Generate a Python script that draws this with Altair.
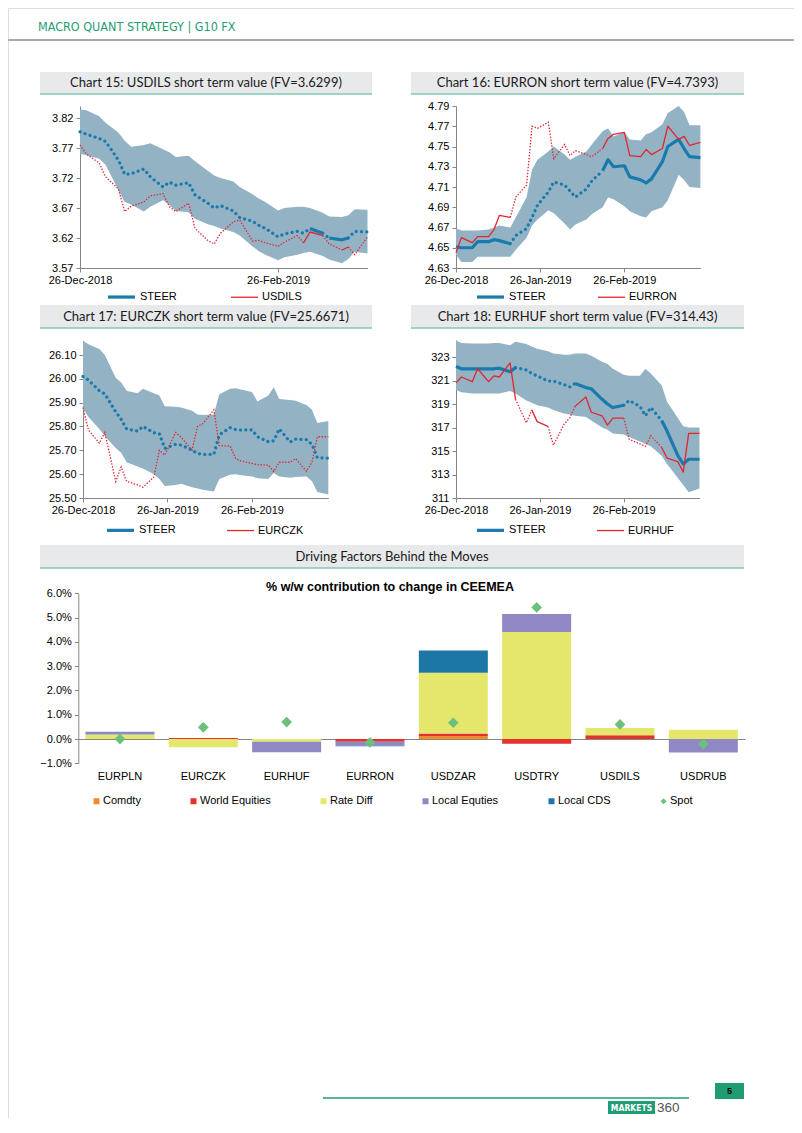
import altair as alt
import pandas as pd

# ---------------- shared time axis (every 2nd business day) ----------------
DATES = [
    "2018-12-26", "2018-12-28", "2019-01-01", "2019-01-03", "2019-01-07", "2019-01-09",
    "2019-01-11", "2019-01-15", "2019-01-17", "2019-01-21", "2019-01-23", "2019-01-25",
    "2019-01-29", "2019-01-31", "2019-02-04", "2019-02-06", "2019-02-08", "2019-02-12",
    "2019-02-14", "2019-02-18", "2019-02-20", "2019-02-22", "2019-02-26", "2019-02-28",
    "2019-03-04", "2019-03-06", "2019-03-08", "2019-03-12", "2019-03-14", "2019-03-18",
    "2019-03-20", "2019-03-22", "2019-03-26",
]

# ---------------- Chart 15: USDILS ----------------
ILS_HI = [3.834, 3.833, 3.823, 3.812, 3.796, 3.782, 3.772, 3.775, 3.778, 3.768, 3.763, 3.755,
          3.757, 3.748, 3.732, 3.724, 3.720, 3.714, 3.705, 3.693, 3.686, 3.680, 3.666, 3.670,
          3.672, 3.672, 3.670, 3.662, 3.656, 3.655, 3.658, 3.668, 3.667]
ILS_LO = [3.761, 3.758, 3.752, 3.742, 3.700, 3.680, 3.676, 3.664, 3.672, 3.683, 3.675, 3.665,
          3.663, 3.652, 3.643, 3.640, 3.636, 3.630, 3.624, 3.606, 3.598, 3.592, 3.583, 3.588,
          3.592, 3.595, 3.597, 3.590, 3.584, 3.578, 3.585, 3.597, 3.594]
ILS_STEER = [3.797, 3.793, 3.786, 3.781, 3.750, 3.726, 3.727, 3.735, 3.722, 3.705, 3.713, 3.708,
             3.712, 3.692, 3.678, 3.670, 3.674, 3.665, 3.654, 3.648, 3.641, 3.636, 3.622, 3.627,
             3.631, 3.628, 3.636, 3.628, 3.620, 3.617, 3.620, 3.631, 3.630]
ILS_SPOT = [3.775, 3.760, 3.745, 3.722, 3.702, 3.664, 3.673, 3.680, 3.690, 3.694, 3.672, 3.664,
            3.678, 3.636, 3.616, 3.610, 3.628, 3.647, 3.650, 3.615, 3.616, 3.612, 3.606, 3.613,
            3.624, 3.612, 3.630, 3.624, 3.610, 3.600, 3.605, 3.592, 3.622]
ILS_STEER_SOLID = [(26, 27), (28, 30)]
ILS_SPOT_SOLID = [(25, 27), (29, 30)]

# ---------------- Chart 16: EURRON ----------------
RON_HI = [4.669, 4.667, 4.667, 4.667, 4.668, 4.670, 4.672, 4.670, 4.680, 4.700, 4.727, 4.737,
          4.745, 4.750, 4.742, 4.737, 4.740, 4.745, 4.752, 4.765, 4.768, 4.760, 4.764, 4.757,
          4.756, 4.762, 4.764, 4.772, 4.783, 4.790, 4.784, 4.771, 4.771]
RON_LO = [4.643, 4.636, 4.636, 4.641, 4.641, 4.641, 4.641, 4.641, 4.648, 4.660, 4.672, 4.678,
          4.687, 4.684, 4.674, 4.668, 4.673, 4.678, 4.683, 4.690, 4.700, 4.698, 4.691, 4.686,
          4.681, 4.680, 4.686, 4.690, 4.697, 4.722, 4.717, 4.710, 4.709]
RON_STEER = [4.651, 4.650, 4.650, 4.656, 4.656, 4.658, 4.657, 4.654, 4.662, 4.669, 4.680, 4.692,
             4.705, 4.715, 4.712, 4.706, 4.700, 4.708, 4.716, 4.726, 4.737, 4.730, 4.731, 4.720,
             4.717, 4.714, 4.718, 4.735, 4.750, 4.757, 4.748, 4.740, 4.739]
RON_SPOT = [4.645, 4.660, 4.655, 4.661, 4.661, 4.668, 4.682, 4.680, 4.700, 4.712, 4.770, 4.768,
            4.774, 4.738, 4.752, 4.741, 4.746, 4.742, 4.740, 4.748, 4.758, 4.762, 4.764, 4.741,
            4.740, 4.747, 4.742, 4.748, 4.770, 4.757, 4.760, 4.751, 4.754]
RON_STEER_SOLID = [(0, 7), (19, 32)]
RON_SPOT_SOLID = [(0, 7), (19, 32)]

# ---------------- Chart 17: EURCZK ----------------
CZK_HI = [26.160, 26.145, 26.125, 26.100, 26.005, 25.985, 25.950, 25.940, 25.958, 25.940, 25.930,
          25.885, 25.883, 25.880, 25.866, 25.850, 25.848, 25.850, 25.935, 25.958, 25.960, 25.955,
          25.945, 25.905, 25.930, 25.965, 25.915, 25.911, 25.908, 25.890, 25.870, 25.815, 25.823]
CZK_LO = [25.876, 25.840, 25.790, 25.760, 25.710, 25.690, 25.650, 25.632, 25.624, 25.600, 25.580,
          25.550, 25.555, 25.560, 25.545, 25.540, 25.535, 25.527, 25.580, 25.598, 25.600, 25.595,
          25.590, 25.583, 25.580, 25.605, 25.590, 25.585, 25.588, 25.590, 25.570, 25.525, 25.515]
CZK_STEER = [26.010, 25.995, 25.950, 25.937, 25.862, 25.830, 25.790, 25.781, 25.800, 25.774, 25.770,
             25.708, 25.725, 25.722, 25.701, 25.687, 25.683, 25.683, 25.765, 25.795, 25.787, 25.785,
             25.786, 25.757, 25.736, 25.740, 25.790, 25.735, 25.747, 25.745, 25.725, 25.669, 25.667]
CZK_SPOT = [25.880, 25.785, 25.730, 25.775, 25.569, 25.630, 25.570, 25.555, 25.545, 25.588, 25.700,
            25.680, 25.775, 25.755, 25.701, 25.800, 25.812, 25.870, 25.720, 25.718, 25.666, 25.655,
            25.645, 25.640, 25.638, 25.611, 25.650, 25.650, 25.665, 25.612, 25.650, 25.757, 25.757]
CZK_STEER_SOLID = []
CZK_SPOT_SOLID = []

# ---------------- Chart 18: EURHUF ----------------
HUF_HI = [324.4, 324.2, 324.15, 324.15, 324.15, 324.2, 324.2, 324.0, 324.3, 324.1, 323.9, 323.7,
          323.5, 323.3, 323.2, 323.2, 323.3, 323.3, 323.1, 322.6, 322.4, 322.0, 321.5, 321.4,
          321.4, 322.0, 321.6, 320.6, 319.2, 317.8, 317.1, 317.0, 317.0]
HUF_LO = [320.2, 320.0, 319.9, 319.9, 319.9, 319.9, 319.9, 320.1, 319.9, 319.3, 319.1, 318.9,
          318.7, 318.5, 318.2, 318.1, 318.0, 317.9, 317.6, 317.0, 316.8, 316.5, 316.4, 316.2,
          315.8, 315.6, 315.4, 314.6, 313.9, 312.7, 312.1, 311.5, 311.8]
HUF_STEER = [322.2, 322.0, 322.0, 322.0, 322.0, 322.0, 322.05, 321.75, 322.1, 321.9, 321.6, 321.4,
             320.95, 320.95, 320.65, 320.45, 320.75, 320.4, 320.3, 319.4, 319.0, 318.7, 318.9, 319.3,
             318.8, 318.0, 318.7, 317.6, 316.7, 314.6, 313.9, 314.3, 314.3]
HUF_SPOT = [320.8, 321.3, 320.9, 322.0, 320.9, 321.4, 321.3, 322.5, 319.4, 317.4, 318.5, 317.5,
            317.1, 315.5, 317.3, 317.8, 318.8, 319.6, 318.3, 318.0, 317.2, 317.8, 317.8, 316.0,
            315.6, 315.4, 316.3, 315.3, 314.4, 314.1, 313.2, 316.5, 316.5]
HUF_STEER_SOLID = [(0, 8), (16, 22), (27, 32)]
HUF_SPOT_SOLID = [(0, 8), (10, 12), (16, 22), (27, 32)]

# ---------------- Driving factors bar chart ----------------
CATS = ["EURPLN", "EURCZK", "EURHUF", "EURRON", "USDZAR", "USDTRY", "USDILS", "USDRUB"]
FACTORS = ["Comdty", "World Equities", "Rate Diff", "Local Equties", "Local CDS"]
COMDTY = [0.0, 0.0, 0.0, 0.0, 0.12, 0.0, 0.0, 0.0]
WORLD_EQ = [0.0, 0.04, 0.0, -0.11, 0.11, -0.19, 0.15, 0.0]
RATE_DIFF = [0.19, -0.34, -0.11, 0.0, 2.50, 4.41, 0.30, 0.38]
LOCAL_EQ = [0.11, 0.0, -0.44, -0.17, 0.0, 0.74, 0.0, -0.56]
LOCAL_CDS = [0.0, 0.0, 0.0, -0.02, 0.91, 0.0, 0.0, 0.0]
SPOT = [0.0, 0.48, 0.70, -0.14, 0.67, 5.42, 0.60, -0.21]

# ---------------- styling / layout ----------------
W, H, OFF = 786, 1110, 8
FONT = "Liberation Sans"
TFONT = "Lato"
NARROW = "Liberation Sans Narrow, DejaVu Sans Condensed, sans-serif"
BAND = "#93b3c5"
BLUE = "#1a7aad"
RED = "#e2262f"
GREEN = "#1f9c74"
GRAYBAND = "#e7e9eb"
TEAL_LINE = "#86c4b9"
FACTOR_COLORS = ["#f08a2a", "#e3322d", "#e4e76c", "#8f88c5", "#1c76a6", "#6cc07c"]

ONE = pd.DataFrame({"k": [0]})


def g(v):
    return v - OFF


def dt(s):
    y, m, d = map(int, s.split("-"))
    return alt.DateTime(year=y, month=m, date=d, utc=True)


def vrect(x1, y1, x2, y2, color):
    return alt.Chart(ONE).mark_rect(color=color, opacity=1).encode(
        x=alt.value(g(x1)), x2=alt.value(g(x2)), y=alt.value(g(y1)), y2=alt.value(g(y2)))


def vrule(x1, x2, y, color, width):
    return alt.Chart(ONE).mark_rule(color=color, strokeWidth=width).encode(
        x=alt.value(g(x1)), x2=alt.value(g(x2)), y=alt.value(g(y)))


def vtext(txt, x, y, **kw):
    return alt.Chart(ONE).mark_text(text=txt, baseline="middle", **kw).encode(
        x=alt.value(g(x)), y=alt.value(g(y)))


def title_band(txt, x1, x2, y1, y2):
    return [vrect(x1, y1, x2, y2, GRAYBAND), vrule(x1, x2, y2, TEAL_LINE, 1.6),
            vtext(txt, (x1 + x2) / 2, (y1 + y2) / 2, align="center", font=TFONT,
                  fontSize=13, color="#1a1a1a")]


def build_segments(values, solid_spans, series):
    n = len(values)
    solid = [False] * (n - 1)
    for a, b in solid_spans:
        for i in range(a, b):
            solid[i] = True
    rows, seg, i = [], 0, 0
    while i < n - 1:
        j = i
        while j < n - 1 and solid[j] == solid[i]:
            j += 1
        for k in range(i, j + 1):
            rows.append({"date": DATES[k], "value": values[k], "series": series,
                         "seg": f"{series}-{seg}", "style": "solid" if solid[i] else "dotted"})
        seg += 1
        i = j
    return rows


AXIS_STYLE = dict(domainColor="#868686", tickColor="#868686", labelColor="#000000",
                  labelFont=FONT, labelFontSize=11, grid=False, title=None, tickSize=4,
                  domainWidth=1, tickWidth=1)


def line_panel(spot_name, hi, lo, steer, spot, steer_solid, spot_solid,
               x_px, y_dom, y_px, y_vals, y_fmt, x_vals, leg_x, leg_y, col_pad):
    sx = alt.Scale(type="utc", domain=[dt(DATES[0]), dt(DATES[-1])],
                   range=[g(x_px[0]), g(x_px[1])])
    sy = alt.Scale(domain=y_dom, range=[g(y_px[0]), g(y_px[1])], nice=False, zero=False)
    x_axis = alt.Axis(orient="bottom", offset=g(y_px[0]) - H,
                      values=[dt(v) for v in x_vals],
                      labelExpr="utcFormat(datum.value, '%d-%b-%Y')",
                      labelPadding=2, labelFlush=False, labelOverlap=False, **AXIS_STYLE)
    y_axis = alt.Axis(orient="left", offset=-g(x_px[0]), values=y_vals, format=y_fmt,
                      labelPadding=3, labelOverlap=False, labelFlush=False, **AXIS_STYLE)
    band_df = pd.DataFrame({"date": DATES, "lo": lo, "hi": hi})
    band = alt.Chart(band_df).mark_area(color=BAND, opacity=1).encode(
        x=alt.X("date:T", scale=sx, axis=x_axis),
        y=alt.Y("lo:Q", scale=sy, axis=y_axis),
        y2="hi:Q")

    leg = alt.Legend(orient="none", legendX=g(leg_x), legendY=g(leg_y), direction="horizontal",
                     title=None, symbolType="stroke", symbolSize=729, labelFont=FONT,
                     labelFontSize=11, labelColor="#000000", columnPadding=col_pad,
                     labelOffset=3, padding=0)
    dom = ["STEER", spot_name]
    df = pd.DataFrame(build_segments(steer, steer_solid, "STEER") +
                      build_segments(spot, spot_solid, spot_name))
    enc = dict(
        x=alt.X("date:T", scale=sx, axis=x_axis),
        y=alt.Y("value:Q", scale=sy, axis=y_axis),
        color=alt.Color("series:N", scale=alt.Scale(domain=dom, range=[BLUE, RED]), legend=leg),
        strokeWidth=alt.StrokeWidth("series:N", scale=alt.Scale(domain=dom, range=[3.2, 1.3]),
                                    legend=leg),
        detail="seg:N",
    )
    layers = [band]
    specs = [
        ("STEER", "dotted", dict(strokeDash=[0.1, 5.2], strokeCap="round")),
        ("STEER", "solid", dict(strokeJoin="round")),
        (spot_name, "dotted", dict(strokeDash=[1.4, 1.6])),
        (spot_name, "solid", dict(strokeJoin="round")),
    ]
    for series, style, kw in specs:
        sub = df[(df["series"] == series) & (df["style"] == style)]
        if len(sub) == 0:
            continue
        layers.append(alt.Chart(sub).mark_line(**kw).encode(**enc))
    return alt.layer(*layers)


p15 = line_panel("USDILS", ILS_HI, ILS_LO, ILS_STEER, ILS_SPOT, ILS_STEER_SOLID, ILS_SPOT_SOLID,
                 (80, 367.5), [3.57, 3.84], (268, 106),
                 [3.57, 3.62, 3.67, 3.72, 3.77, 3.82], ".2f",
                 ["2018-12-26", "2019-02-26"], 106, 281.5, 51)
p16 = line_panel("EURRON", RON_HI, RON_LO, RON_STEER, RON_SPOT, RON_STEER_SOLID, RON_SPOT_SOLID,
                 (456, 700.4), [4.63, 4.79], (268, 106),
                 [4.63, 4.65, 4.67, 4.69, 4.71, 4.73, 4.75, 4.77, 4.79], ".2f",
                 ["2018-12-26", "2019-01-26", "2019-02-26"], 475, 281.5, 49)
p17 = line_panel("EURCZK", CZK_HI, CZK_LO, CZK_STEER, CZK_SPOT, CZK_STEER_SOLID, CZK_SPOT_SOLID,
                 (83, 328.3), [25.50, 26.16], (498, 340.7),
                 [25.5, 25.6, 25.7, 25.8, 25.9, 26.0, 26.1], ".2f",
                 ["2018-12-26", "2019-01-26", "2019-02-26"], 105, 514.8, 48)
p18 = line_panel("EURHUF", HUF_HI, HUF_LO, HUF_STEER, HUF_SPOT, HUF_STEER_SOLID, HUF_SPOT_SOLID,
                 (456, 699.5), [311, 324.45], (498, 340),
                 [311, 313, 315, 317, 319, 321, 323], "d",
                 ["2018-12-26", "2019-01-26", "2019-02-26"], 475, 514.8, 48)

# ---------------- bar panel ----------------
bar_rows = []
for fi, (fname, vals) in enumerate(zip(FACTORS, [COMDTY, WORLD_EQ, RATE_DIFF, LOCAL_EQ, LOCAL_CDS])):
    for c, v in zip(CATS, vals):
        bar_rows.append({"cat": c, "factor": fname, "value": v, "ord": fi})
bar_df = pd.DataFrame(bar_rows)
spot_df = pd.DataFrame({"cat": CATS, "factor": ["Spot"] * len(CATS), "value": SPOT})

ALL6 = FACTORS + ["Spot"]
sxb = alt.Scale(domain=CATS, range=[g(78.3), g(745)], paddingInner=0.172, paddingOuter=0.086)
syb = alt.Scale(domain=[-1, 6], range=[g(763.3), g(593.3)], nice=False, zero=False)
bar_leg = alt.Legend(orient="none", legendX=g(91), legendY=g(795.5), direction="horizontal",
                     title=None, symbolSize=36, labelFont=FONT, labelFontSize=11,
                     labelColor="#000000", columnPadding=47, labelOffset=1, padding=0,
                     symbolStrokeWidth=0)
color_b = alt.Color("factor:N", scale=alt.Scale(domain=ALL6, range=FACTOR_COLORS), legend=bar_leg)
xb_axis = alt.Axis(orient="bottom", offset=g(739) - H, labelPadding=31, labelAngle=0,
                   ticks=False, domainColor="#868686", labelColor="#000000", labelFont=FONT,
                   labelFontSize=11, grid=False, title=None)
yb_axis = alt.Axis(orient="left", offset=-g(78.3), values=[-1, 0, 1, 2, 3, 4, 5, 6],
                   labelExpr="format(datum.value, '.1f') + '%'", labelPadding=3,
                   labelOverlap=False, labelFlush=False, **AXIS_STYLE)
bars = alt.Chart(bar_df).mark_bar(opacity=1).encode(
    x=alt.X("cat:N", scale=sxb, sort=CATS, axis=xb_axis),
    y=alt.Y("value:Q", scale=syb, stack="zero", axis=yb_axis),
    color=color_b,
    order=alt.Order("ord:Q"),
)
spots = alt.Chart(spot_df).mark_point(filled=True, size=115, opacity=1).encode(
    x=alt.X("cat:N", scale=sxb, sort=CATS, axis=xb_axis),
    y=alt.Y("value:Q", scale=syb, axis=yb_axis),
    color=color_b,
    shape=alt.Shape("factor:N", scale=alt.Scale(domain=ALL6, range=["square"] * 5 + ["diamond"]),
                    legend=bar_leg),
)
p_bar = alt.layer(bars, spots)

# ---------------- page decorations ----------------
deco = [
    vtext("MACRO QUANT STRATEGY | G10 FX", 38, 27, align="left", font=NARROW, fontSize=12.5,
          color=GREEN),
    vrule(8, 794, 40, "#a9a9a9", 2),
]
deco += title_band("Chart 15: USDILS short term value (FV=3.6299)", 40, 372, 72, 94)
deco += title_band("Chart 16: EURRON short term value (FV=4.7393)", 411, 744, 72, 94)
deco += title_band("Chart 17: EURCZK short term value (FV=25.6671)", 40, 372, 305, 328)
deco += title_band("Chart 18: EURHUF short term value (FV=314.43)", 411, 744, 305, 328)
deco += title_band("Driving Factors Behind the Moves", 40, 744, 545, 568)
deco += [
    vtext("% w/w contribution to change in CEEMEA", 390, 587, align="center", font=FONT,
          fontSize=12.5, fontWeight="bold", color="#000000"),
    vrule(323, 689, 1098, GREEN, 1.5),
    vrect(715, 1083, 744, 1099, GREEN),
    vtext("5", 729.5, 1091, align="center", font=FONT, fontSize=9, fontWeight="bold",
          color="#000000"),
    vrect(608, 1101, 655, 1114, GREEN),
    vtext("MARKETS", 631.5, 1107.5, align="center", font=NARROW, fontSize=8.5,
          fontWeight="bold", color="#ffffff"),
    vtext("360", 657, 1108, align="left", font=FONT, fontSize=13.5, color="#555555"),
]

chart = alt.layer(*deco, p15, p16, p17, p18, p_bar).resolve_scale(
    x="independent", y="independent", color="independent",
    strokeWidth="independent", shape="independent",
).resolve_axis(x="independent", y="independent").resolve_legend(
    color="independent", strokeWidth="independent", shape="independent",
).properties(
    width=W, height=H, padding=0, autosize=alt.AutoSizeParams(type="none"),
).configure_view(stroke=None).configure(background="#ffffff")

chart.save("out.html", embed_options={"renderer": "svg", "actions": False})
